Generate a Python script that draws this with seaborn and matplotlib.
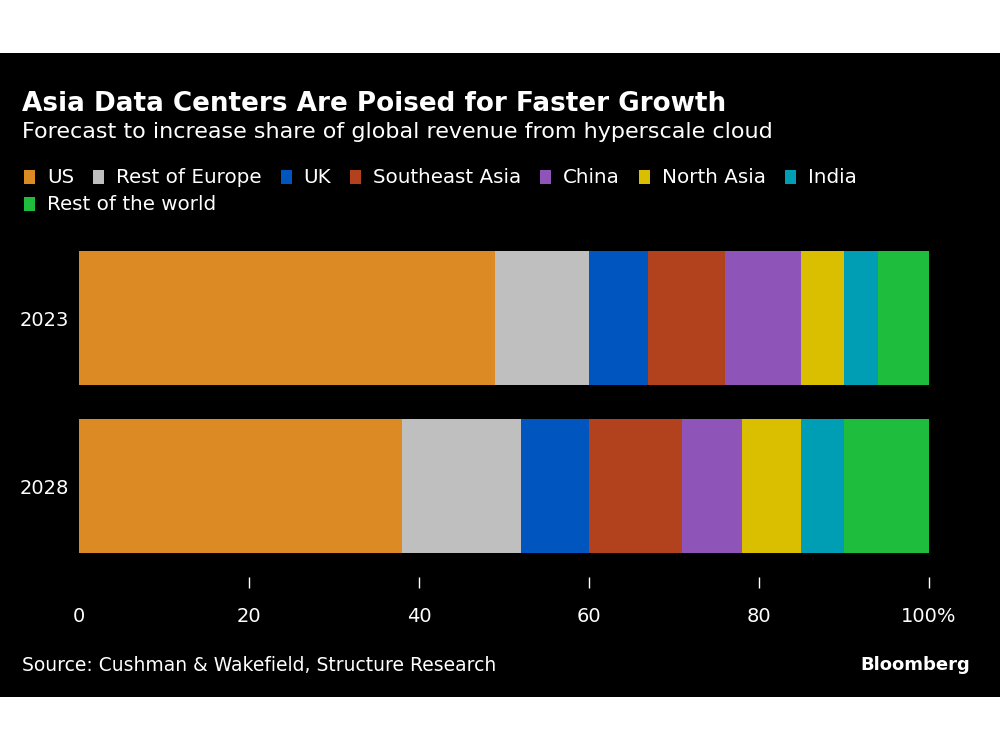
"""Asia data centers: share of global hyperscale cloud revenue, 2023 vs 2028."""

import matplotlib.pyplot as plt
import numpy as np
import pandas as pd
import seaborn as sns
from matplotlib.patches import Rectangle

years = ["2023", "2028"]
regions = [
    "US",
    "Rest of Europe",
    "UK",
    "Southeast Asia",
    "China",
    "North Asia",
    "India",
    "Rest of the world",
]
share_2023 = [49, 11, 7, 9, 9, 5, 4, 6]
share_2028 = [38, 14, 8, 11, 7, 7, 5, 10]
colors = [
    "#db8a24",
    "#bfbfbf",
    "#0055bf",
    "#b2411e",
    "#8f54b8",
    "#d9bf00",
    "#009eb4",
    "#1fbd3e",
]
x_ticks = [0, 20, 40, 60, 80, 100]
x_tick_labels = ["0", "20", "40", "60", "80", "100%"]

sns.set_theme(style="dark")
plt.rcParams["font.family"] = ["DejaVu Sans"]

shares = np.array([share_2023, share_2028])
cumulative = shares.cumsum(axis=1)

fig = plt.figure(figsize=(10, 7.5), dpi=100)
fig.patch.set_facecolor("black")
# white margins above and below the black card
for y0, h in [(0, 53), (697, 53)]:
    fig.patches.append(
        Rectangle(
            (0, 1 - (y0 + h) / 750),
            1,
            h / 750,
            transform=fig.transFigure,
            facecolor="white",
            edgecolor="none",
        )
    )

ax = fig.add_axes([0.079, 1 - 588 / 750, 0.85, (588 - 240) / 750])
ax.set_facecolor("black")
ax.set_zorder(3)

# stack by drawing the widest cumulative bar first
for i in range(len(regions) - 1, -1, -1):
    df = pd.DataFrame({"year": years, "value": cumulative[:, i]})
    sns.barplot(
        data=df,
        x="value",
        y="year",
        orient="h",
        color=colors[i],
        saturation=1,
        width=0.8,
        edgecolor="none",
        linewidth=0,
        ax=ax,
    )

ax.set_xlim(0, 100)
ax.set_ylim(1 + (588 - 486) / 168, -(318 - 240) / 168)
ax.set_xticks(x_ticks)
ax.set_xticklabels(x_tick_labels)
ax.set_xlabel("")
ax.set_ylabel("")
for s in ax.spines.values():
    s.set_visible(False)
ax.grid(False)
ax.tick_params(
    axis="x",
    direction="in",
    length=8,
    width=1,
    color="white",
    colors="white",
    labelsize=14,
    pad=14,
    bottom=True,
)
ax.tick_params(axis="y", length=0, colors="white", labelsize=14, pad=7)
ax.xaxis.get_major_ticks()[0].tick1line.set_visible(False)

fig.text(
    0.022, 1 - 111 / 750,
    "Asia Data Centers Are Poised for Faster Growth",
    color="white", fontsize=18.9, fontweight="bold", va="baseline",
)
fig.text(
    0.022, 1 - 138 / 750,
    "Forecast to increase share of global revenue from hyperscale cloud",
    color="white", fontsize=16, va="baseline",
)

# legend laid out like flowing text
fig.canvas.draw()
renderer = fig.canvas.get_renderer()
rows = [regions[:7], regions[7:]]
row_base = [183, 210]
idx = 0
for r, row in enumerate(rows):
    x = 24
    for name in row:
        y = row_base[r]
        fig.patches.append(
            Rectangle(
                (x / 1000, 1 - (y + 1) / 750),
                11 / 1000,
                14 / 750,
                transform=fig.transFigure,
                facecolor=colors[idx],
                edgecolor="none",
            )
        )
        t = fig.text(
            (x + 23) / 1000, 1 - y / 750, name,
            color="white", fontsize=14.3, va="baseline",
        )
        w = t.get_window_extent(renderer).width
        x = x + 23 + w + 19
        idx += 1

fig.text(
    0.022, 1 - 671 / 750,
    "Source: Cushman & Wakefield, Structure Research",
    color="white", fontsize=13.5, va="baseline",
)
fig.text(
    0.970, 1 - 670 / 750, "Bloomberg",
    color="white", fontsize=13, fontweight="bold", ha="right", va="baseline",
)

fig.savefig("out.png", dpi=100, facecolor=fig.get_facecolor())
